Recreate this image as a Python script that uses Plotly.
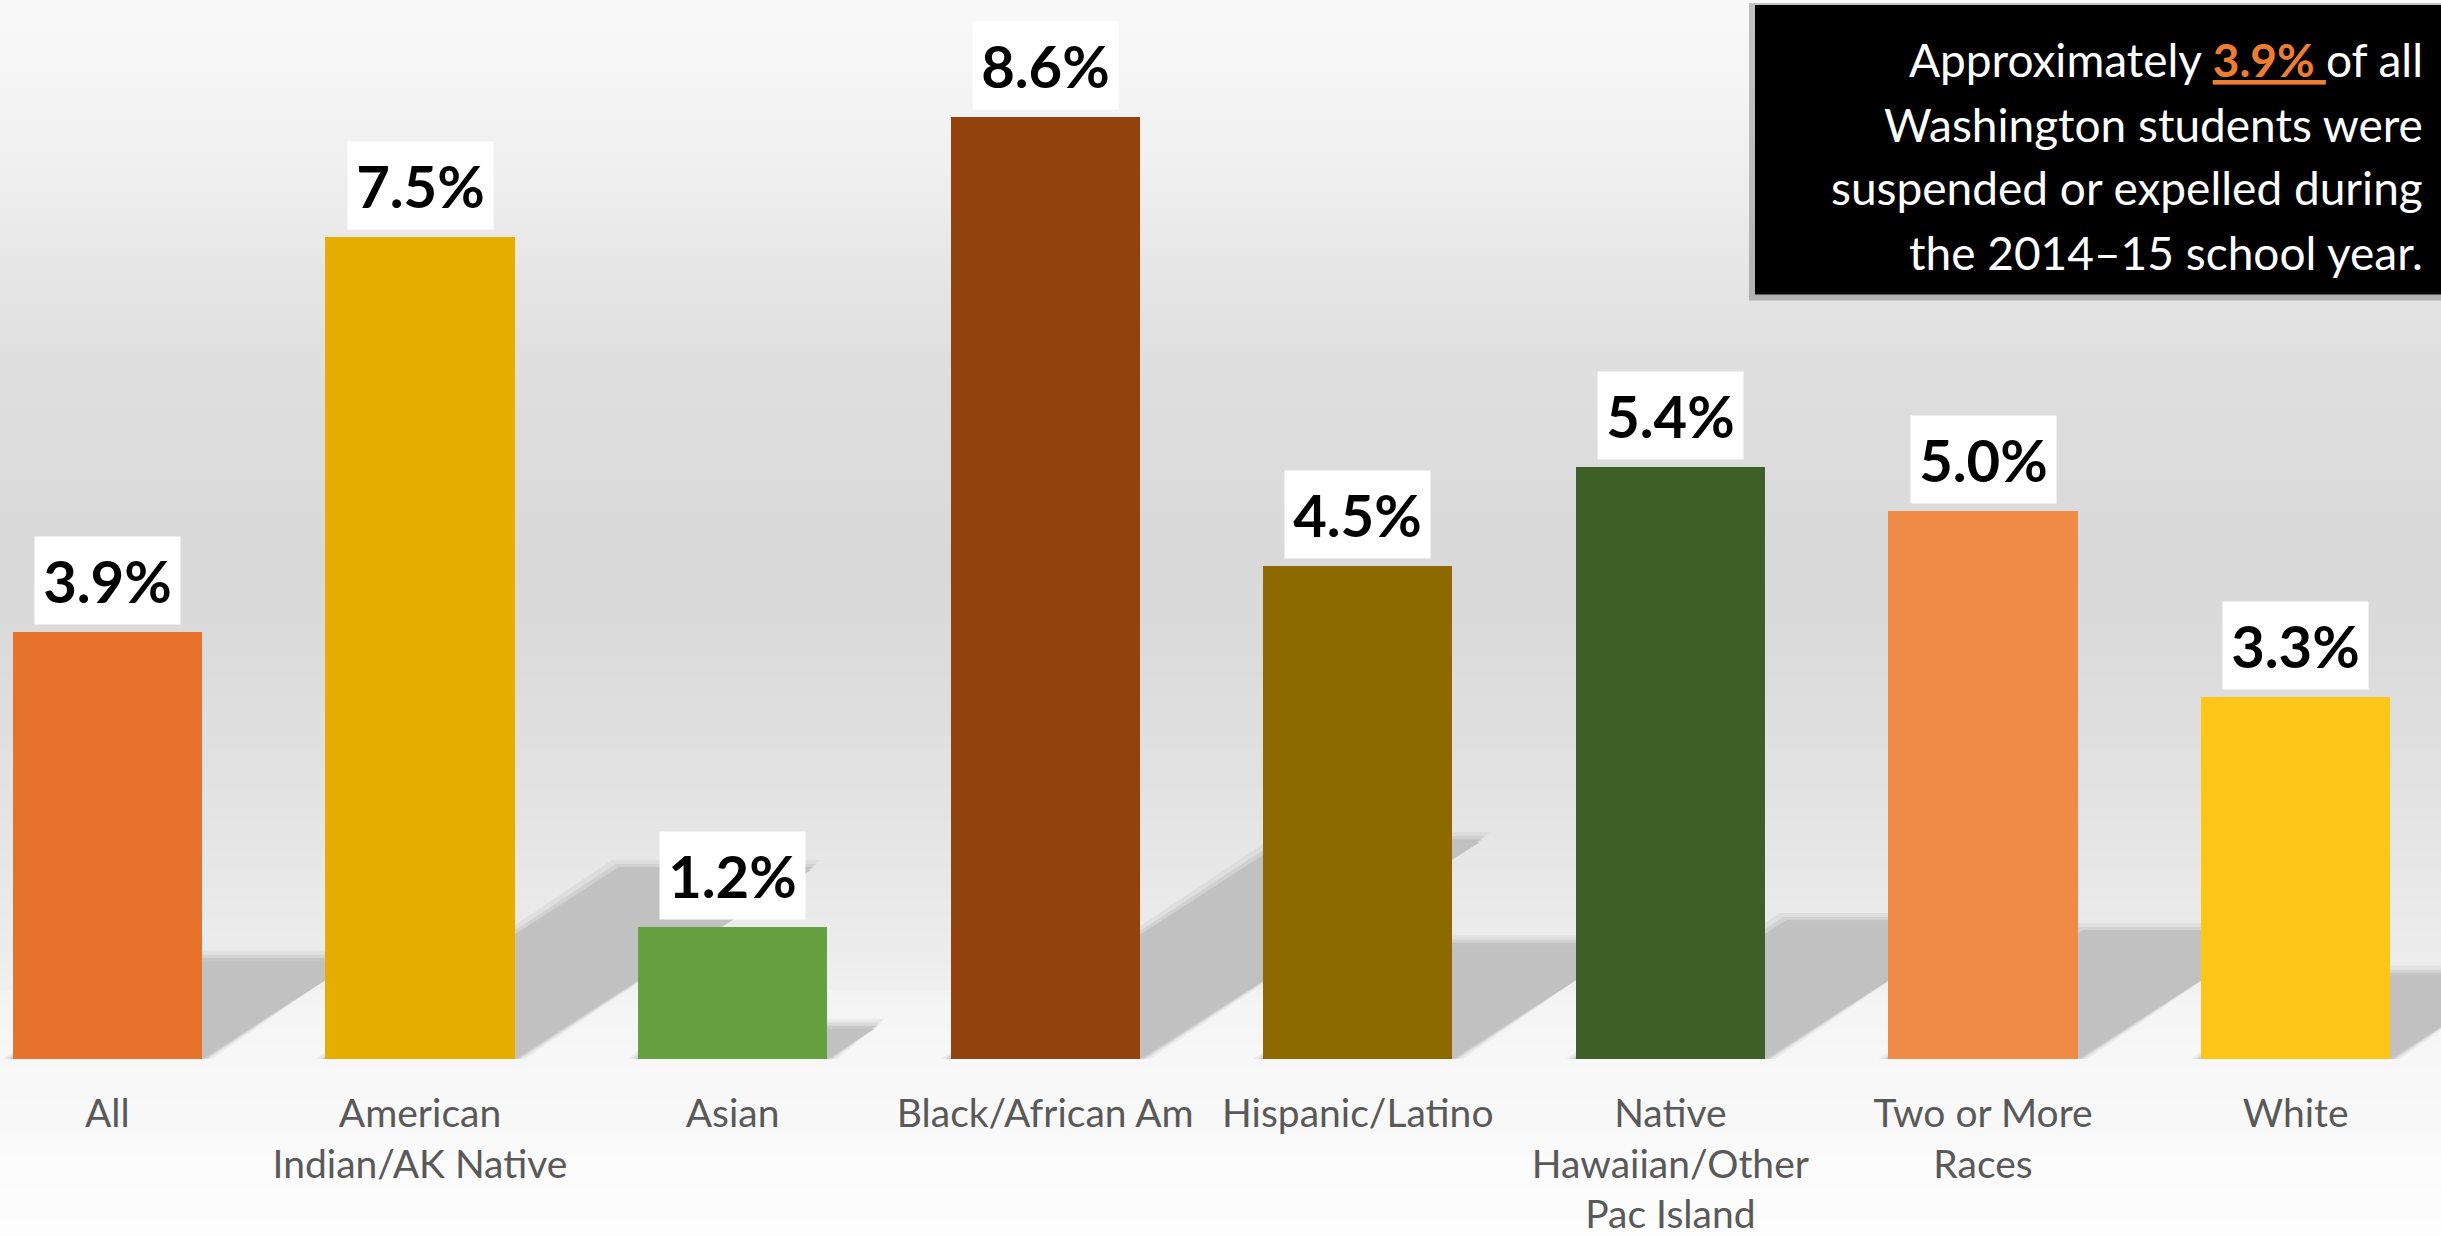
import plotly.graph_objects as go

# ---------------- data ----------------
categories = ["All", "American<br>Indian/AK Native", "Asian", "Black/African Am",
              "Hispanic/Latino", "Native<br>Hawaiian/Other<br>Pac Island",
              "Two or More<br>Races", "White"]
values = [3.9, 7.5, 1.2, 8.6, 4.5, 5.4, 5.0, 3.3]
value_labels = ["3.9%", "7.5%", "1.2%", "8.6%", "4.5%", "5.4%", "5.0%", "3.3%"]
bar_colors = ["#E6722B", "#E6AE00", "#66A040", "#91420D",
              "#8C6A00", "#3E5F27", "#EF8B47", "#FFC61A"]
callout_lines = ["Approximately <span style='color:#ED7D31'><u><b>3.9% </b></u></span>of all",
                 "Washington students were",
                 "suspended or expelled during",
                 "the 2014\u201315 school year."]

# ---------------- geometry / style ----------------
W, H = 2441, 1236
PLOT_H = 1061          # plot area height (baseline at pixel 1061)
MB = H - PLOT_H
PX_PER_UNIT_Y = 109.8
PX_PER_CAT = 312.6
X0_PX = 107.4          # pixel centre of first category
FONT = "Lato"

xs = list(range(len(categories)))
x_range = [-X0_PX / PX_PER_CAT, (W - X0_PX) / PX_PER_CAT]
y_range = [0, PLOT_H / PX_PER_UNIT_Y]
BAR_W = 0.605

fig = go.Figure()
fig.add_trace(go.Bar(
    x=xs, y=values, width=BAR_W,
    marker=dict(color=bar_colors, line=dict(width=0)),
    hoverinfo="skip", showlegend=False,
))

shapes = []

# background gradient (wall + floor) as thin horizontal bands in paper coords
stops = [(0, 249), (100, 244), (200, 237), (260, 231), (360, 223), (560, 217),
         (650, 219), (780, 226), (930, 235), (985, 239), (1000, 244),
         (1061, 247), (1236, 253)]
def gray_at(p):
    for (p0, g0), (p1, g1) in zip(stops[:-1], stops[1:]):
        if p0 <= p <= p1:
            return g0 + (g1 - g0) * (p - p0) / (p1 - p0)
    return stops[-1][1]
step = 8
for p in range(0, H, step):
    g = int(round(gray_at(p + step / 2)))
    y_top = (PLOT_H - p) / PLOT_H
    y_bot = (PLOT_H - (p + step + 1)) / PLOT_H
    shapes.append(dict(type="rect", xref="paper", yref="paper", x0=0, x1=1,
                       y0=y_bot, y1=y_top, fillcolor=f"rgb({g},{g},{g})",
                       line=dict(width=0), layer="below"))

# cast shadows behind bars (parallelogram skewed up-right, derived from values)
K1 = 0.36 * PX_PER_UNIT_Y / PX_PER_CAT   # x-units of skew per unit of value
K2 = 0.23                                # y-units of shadow height per unit of value
blur_layers = [(10, "rgba(150,150,150,0.12)"), (6, "rgba(150,150,150,0.18)"),
               (3, "rgba(160,160,160,0.30)"), (0, "rgb(193,193,193)")]
for x, v in zip(xs, values):
    dx, dy = K1 * v, K2 * v
    a, b = x - BAR_W / 2, x + BAR_W / 2
    for gpx, col in blur_layers:
        gx = gpx / PX_PER_CAT
        gy = gpx / PX_PER_UNIT_Y
        path = (f"M {a - gx},0 L {b + gx},0 L {b + dx + gx},{dy + gy} "
                f"L {a + dx - gx},{dy + gy} Z")
        shapes.append(dict(type="path", xref="x", yref="y", path=path,
                           fillcolor=col, line=dict(width=0), layer="below"))

# callout box with a subtle shadow
def px_x(px):
    return px / W
def px_y(py):
    return (PLOT_H - py) / PLOT_H
shapes.append(dict(type="rect", xref="paper", yref="paper",
                   x0=px_x(1749), x1=1.0, y0=px_y(301), y1=px_y(3),
                   fillcolor="rgba(0,0,0,0.22)", line=dict(width=0), layer="above"))
shapes.append(dict(type="rect", xref="paper", yref="paper",
                   x0=px_x(1755), x1=1.0, y0=px_y(295), y1=px_y(5),
                   fillcolor="#000000", line=dict(width=0), layer="above"))

annotations = []
for x, v, t in zip(xs, values, value_labels):
    annotations.append(dict(
        x=x, y=v, xref="x", yref="y", text=f"<b>{t}</b>", showarrow=False,
        xanchor="center", yanchor="bottom", yshift=7,
        width=145, height=87, borderpad=0, bgcolor="#FFFFFF",
        font=dict(family=FONT, size=58, color="#000000"),
        align="center", valign="middle",
    ))

line_centers_px = [60, 125, 188, 253]
for line, cy in zip(callout_lines, line_centers_px):
    annotations.append(dict(
        x=px_x(2424), y=px_y(cy), xref="paper", yref="paper",
        xanchor="right", yanchor="middle", showarrow=False, align="right",
        text=line, borderpad=0,
        font=dict(family=FONT, size=46, color="#FFFFFF"),
    ))

fig.update_layout(
    width=W, height=H,
    margin=dict(l=0, r=0, t=0, b=MB, pad=0),
    paper_bgcolor="#FAFAFA",
    plot_bgcolor="rgba(0,0,0,0)",
    shapes=shapes,
    annotations=annotations,
    bargap=0,
    xaxis=dict(range=x_range, tickmode="array", tickvals=xs, ticktext=categories,
               showgrid=False, zeroline=False, showline=False, ticks="",
               ticklabelstandoff=28,
               tickfont=dict(family=FONT, size=39, color="#595959"),
               fixedrange=True),
    yaxis=dict(range=y_range, visible=False, showgrid=False, zeroline=False,
               fixedrange=True),
    showlegend=False,
)

fig.write_html("out.html",
               config={"displayModeBar": False},
               post_script="document.body.style.margin='0px';document.body.style.overflow='hidden';")
